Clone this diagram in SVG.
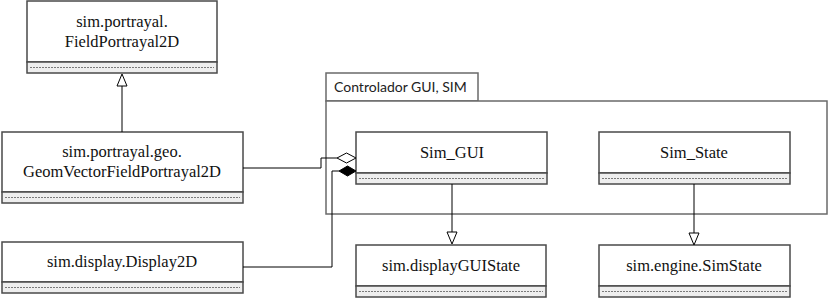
<svg xmlns="http://www.w3.org/2000/svg" width="830" height="300" viewBox="0 0 830 300">
  <defs>
    <style>
      .box { fill: #ffffff; stroke: #4a4a4a; stroke-width: 1.5; }
      .sep { fill: #eeeeee; stroke: #4a4a4a; stroke-width: 1.5; }
      .dash { stroke: #7a7a7a; stroke-width: 1; stroke-dasharray: 2 1; }
      .lbl { font-family: "Liberation Serif", "DejaVu Serif", serif; font-size: 16.5px; fill: #111111; text-anchor: middle; }
      .pkg { fill: #ffffff; stroke: #6a6a6a; stroke-width: 1.5; }
      .pkglbl { font-family: Lato, "Liberation Sans", sans-serif; font-size: 14px; fill: #222222; }
      .edge { fill: none; stroke: #000000; stroke-width: 1; }
      .tri { fill: #ffffff; stroke: #000000; stroke-width: 1; }
    </style>
  </defs>

  <!-- package frame -->
  <g id="package">
    <rect class="pkg" x="326" y="73" width="152" height="28"/>
    <rect class="pkg" x="326" y="101" width="501" height="113"/>
    <text class="pkglbl" x="334" y="92">Controlador GUI, SIM</text>
  </g>

  <g id="fieldPortrayal2D">
    <rect class="box" x="27" y="1" width="190" height="61"/>
    <rect class="sep" x="27" y="62" width="190" height="11"/>
    <line class="dash" x1="30" y1="67.5" x2="214" y2="67.5"/>
    <text class="lbl" x="122" y="27">sim.portrayal.</text>
    <text class="lbl" x="122" y="47">FieldPortrayal2D</text>
  </g>

  <g id="geomVectorFieldPortrayal2D">
    <rect class="box" x="2" y="132" width="241" height="60"/>
    <rect class="sep" x="2" y="192" width="241" height="11"/>
    <line class="dash" x1="5" y1="197.5" x2="240" y2="197.5"/>
    <text class="lbl" x="122" y="157">sim.portrayal.geo.</text>
    <text class="lbl" x="122" y="177">GeomVectorFieldPortrayal2D</text>
  </g>

  <g id="display2D">
    <rect class="box" x="2" y="242" width="241" height="40"/>
    <rect class="sep" x="2" y="282" width="241" height="11"/>
    <line class="dash" x1="5" y1="287.5" x2="240" y2="287.5"/>
    <text class="lbl" x="122" y="267">sim.display.Display2D</text>
  </g>

  <g id="simGUI">
    <rect class="box" x="356" y="132" width="191" height="41"/>
    <rect class="sep" x="356" y="173" width="191" height="11"/>
    <line class="dash" x1="359" y1="178.5" x2="544" y2="178.5"/>
    <text class="lbl" x="452" y="158">Sim_GUI</text>
  </g>

  <g id="simState">
    <rect class="box" x="599" y="132" width="191" height="41"/>
    <rect class="sep" x="599" y="173" width="191" height="11"/>
    <line class="dash" x1="602" y1="178.5" x2="787" y2="178.5"/>
    <text class="lbl" x="694" y="158">Sim_State</text>
  </g>

  <g id="displayGUIState">
    <rect class="box" x="356" y="245" width="190" height="41"/>
    <rect class="sep" x="356" y="286" width="190" height="11"/>
    <line class="dash" x1="359" y1="291.5" x2="543" y2="291.5"/>
    <text class="lbl" x="451" y="271">sim.displayGUIState</text>
  </g>

  <g id="engineSimState">
    <rect class="box" x="599" y="245" width="191" height="41"/>
    <rect class="sep" x="599" y="286" width="191" height="11"/>
    <line class="dash" x1="602" y1="291.5" x2="787" y2="291.5"/>
    <text class="lbl" x="694" y="271">sim.engine.SimState</text>
  </g>

  <g id="connectors">
    <!-- generalizations -->
    <path class="edge" d="M122,132 L122,86"/>
    <path class="tri" d="M122,74 L127,86 L117,86 Z"/>
    <path class="edge" d="M452,184 L452,232"/>
    <path class="tri" d="M452,244 L457,232 L447,232 Z"/>
    <path class="edge" d="M694,184 L694,233"/>
    <path class="tri" d="M694,245 L699,233 L689,233 Z"/>
    <!-- aggregation: portrayal to Sim_GUI -->
    <path class="edge" d="M243,168 L321,168 L321,158 L337,158"/>
    <path d="M337,158 L346.5,153 L356,158 L346.5,163 Z" fill="#ffffff" stroke="#000000" stroke-width="1"/>
    <!-- composition: display to Sim_GUI -->
    <path class="edge" d="M243,267 L332,267 L332,171 L339,171"/>
    <path d="M339,171 L347.5,166 L356,171 L347.5,176 Z" fill="#000000" stroke="#000000" stroke-width="1"/>
  </g>
</svg>
